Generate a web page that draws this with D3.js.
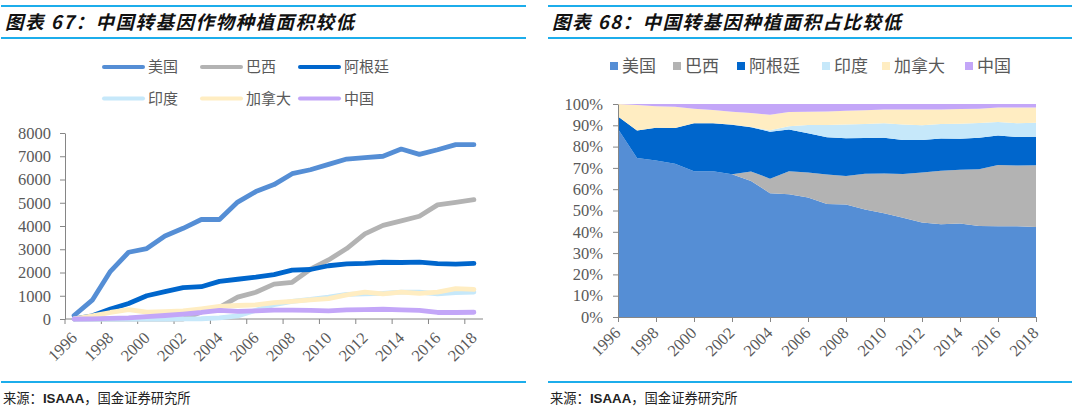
<!DOCTYPE html>
<html>
<head>
<meta charset="utf-8">
<script src="https://cdn.jsdelivr.net/npm/d3@7"></script>
<style>
  body { margin: 0; background: #fff; }
  svg { display: block; }
</style>
</head>
<body>
<div id="vis"></div>
<script>
var width = 1080;
var height = 411;

// data (万公顷)
var years = [1996, 1997, 1998, 1999, 2000, 2001, 2002, 2003, 2004, 2005, 2006, 2007,
             2008, 2009, 2010, 2011, 2012, 2013, 2014, 2015, 2016, 2017, 2018];
var countries = ["美国", "巴西", "阿根廷", "印度", "加拿大", "中国"];
var usa       = [150, 810, 2050, 2870, 3030, 3570, 3900, 4280, 4280, 5030, 5480, 5780,
                 6250, 6420, 6650, 6880, 6940, 7000, 7310, 7080, 7280, 7500, 7500];
var brazil    = [0, 0, 0, 0, 0, 0, 0, 300, 500, 940, 1150, 1500,
                 1580, 2140, 2540, 3030, 3660, 4030, 4220, 4420, 4910, 5020, 5130];
var argentina = [10, 140, 430, 670, 1000, 1180, 1350, 1390, 1620, 1710, 1800, 1910,
                 2100, 2130, 2290, 2370, 2390, 2440, 2430, 2450, 2380, 2360, 2390];
var india     = [0, 0, 0, 0, 0, 0, 5, 10, 50, 130, 380, 620,
                 760, 840, 940, 1060, 1080, 1100, 1160, 1160, 1080, 1140, 1160];
var canada    = [10, 130, 280, 400, 300, 320, 350, 440, 540, 580, 610, 700,
                 760, 820, 880, 1040, 1160, 1080, 1160, 1100, 1160, 1310, 1270];
var china     = [0, 5, 30, 50, 100, 150, 210, 280, 370, 330, 350, 380,
                 380, 370, 350, 390, 400, 420, 390, 370, 280, 280, 290];
var seriesValues = [usa, brazil, argentina, india, canada, china];
var colors = ["#558ED5", "#B3B3B3", "#0066CC", "#C6E8FA", "#FFEDC2", "#C3A6F8"];

var areaTicks = [0, 1000, 2000, 3000, 4000, 5000, 6000, 7000, 8000];
var shareTicks = [0, 0.1, 0.2, 0.3, 0.4, 0.5, 0.6, 0.7, 0.8, 0.9, 1];
var yearTicks = [1996, 1998, 2000, 2002, 2004, 2006, 2008, 2010, 2012, 2014, 2016, 2018];

var titles = ["图表 67：中国转基因作物种植面积较低", "图表 68：中国转基因种植面积占比较低"];
var source = ["来源：", "ISAAA", "，国金证券研究所"];

var ruleColor = "#1CADEB";
var axisColor = "#868686";
var textColor = "#595959";
var serif = "'Liberation Serif', 'Times New Roman', serif";
var cjk = "'Noto Sans CJK SC', sans-serif";

var svg = d3.select("#vis")
  .append("svg")
  .attr("width", width)
  .attr("height", height)
  .style("background-color", "white");

// frames: rules, title, source
function frame(x0, x1, title) {
  [6, 38, 382].forEach(function(y) {
    svg.append("line")
      .attr("x1", x0).attr("x2", x1)
      .attr("y1", y).attr("y2", y)
      .attr("stroke", ruleColor)
      .attr("stroke-width", 1.8);
  });
  svg.append("text")
    .attr("x", x0 + 4)
    .attr("y", 29)
    .style("font-family", cjk)
    .style("font-size", "18.5px")
    .style("font-weight", 700)
    .style("font-style", "italic")
    .style("letter-spacing", "1.5px")
    .style("fill", "#111")
    .text(title);
  var src = svg.append("text")
    .attr("x", x0 + 2)
    .attr("y", 403)
    .style("font-size", "13.3px")
    .style("fill", "#222");
  src.append("tspan").style("font-family", cjk).text(source[0]);
  src.append("tspan").style("font-family", "'Liberation Sans', Arial, sans-serif")
    .style("font-weight", 700).text(source[1]);
  src.append("tspan").style("font-family", cjk).text(source[2]);
}
frame(1, 526, titles[0]);
frame(548, 1072, titles[1]);

function styleAxis(g) {
  g.attr("font-family", null).attr("font-size", null);
  g.selectAll("path, line").attr("stroke", axisColor);
  g.selectAll("text")
    .attr("font-family", serif)
    .style("font-family", serif)
    .style("font-size", "16.5px")
    .style("fill", textColor);
}

// ---------- left: line chart ----------
var x1 = d3.scaleBand().domain(years).range([65, 483]);
var y1 = d3.scaleLinear().domain([0, 8000]).range([319, 133]);
var bw = x1.bandwidth();

var yAxis1 = svg.append("g")
  .attr("transform", "translate(65,0)")
  .call(d3.axisLeft(y1).tickValues(areaTicks).tickSize(5).tickSizeOuter(0)
    .tickPadding(9).tickFormat(d3.format("d")));
styleAxis(yAxis1);

var xAxis1 = svg.append("g");
xAxis1.append("line")
  .attr("x1", 65).attr("x2", 483)
  .attr("y1", 319).attr("y2", 319);
xAxis1.selectAll(".tick")
  .data(yearTicks)
  .join("line")
  .attr("x1", d => x1(d)).attr("x2", d => x1(d))
  .attr("y1", 319).attr("y2", 324);
xAxis1.selectAll("text")
  .data(yearTicks)
  .join("text")
  .attr("text-anchor", "end")
  .attr("transform", d => `translate(${x1(d) + bw / 2 + 4}, ${319 + 20}) rotate(-45)`)
  .text(d => d);
styleAxis(xAxis1);

var line = d3.line()
  .x((d, i) => x1(years[i]) + bw / 2)
  .y(d => y1(d));

svg.append("g").selectAll("path")
  .data(seriesValues)
  .join("path")
  .attr("d", d => line(d))
  .attr("fill", "none")
  .attr("stroke", (d, i) => colors[i])
  .attr("stroke-width", 4.8)
  .attr("stroke-linejoin", "round")
  .attr("stroke-linecap", "round");

// legend (two rows of three)
var legend1 = svg.append("g").selectAll("g")
  .data(countries)
  .join("g")
  .attr("transform", (d, i) => `translate(${104 + (i % 3) * 98}, ${i < 3 ? 67 : 98.5})`);
legend1.append("line")
  .attr("x1", 0).attr("x2", 39)
  .attr("stroke", (d, i) => colors[i])
  .attr("stroke-width", 4)
  .attr("stroke-linecap", "round");
legend1.append("text")
  .attr("x", 44)
  .attr("dy", "0.36em")
  .style("font-family", cjk)
  .style("font-size", "15px")
  .style("fill", textColor)
  .text(d => d);

// ---------- right: 100% stacked area ----------
var table = years.map((yr, i) => {
  var row = { year: yr };
  countries.forEach((c, k) => { row[c] = seriesValues[k][i]; });
  return row;
});
var stacked = d3.stack().keys(countries).offset(d3.stackOffsetExpand)(table);

var x2 = d3.scalePoint().domain(years).range([618, 1036]);
var y2 = d3.scaleLinear().domain([0, 1]).range([317, 104]);

var area = d3.area()
  .x(d => x2(d.data.year))
  .y0(d => y2(d[0]))
  .y1(d => y2(d[1]));

svg.append("g").selectAll("path")
  .data(stacked)
  .join("path")
  .attr("d", area)
  .attr("fill", (d, i) => colors[i]);

var yAxis2 = svg.append("g")
  .attr("transform", "translate(618,0)")
  .call(d3.axisLeft(y2).tickValues(shareTicks).tickSize(5).tickSizeOuter(0)
    .tickPadding(10).tickFormat(d3.format(".0%")));
styleAxis(yAxis2);

var xAxis2 = svg.append("g")
  .attr("transform", "translate(0,317)")
  .call(d3.axisBottom(x2).tickValues(yearTicks).tickSize(5).tickSizeOuter(0));
xAxis2.selectAll(".tick text")
  .attr("text-anchor", "end")
  .attr("dy", null)
  .attr("y", null)
  .attr("transform", "translate(3,17) rotate(-45)");
styleAxis(xAxis2);

// legend (one row)
var legendX = [610, 673, 737, 822, 882, 965];
var legend2 = svg.append("g").selectAll("g")
  .data(countries)
  .join("g")
  .attr("transform", (d, i) => `translate(${legendX[i]}, 66)`);
legend2.append("rect")
  .attr("x", 0).attr("y", -4)
  .attr("width", 8).attr("height", 8)
  .attr("fill", (d, i) => colors[i]);
legend2.append("text")
  .attr("x", 12)
  .attr("dy", "0.36em")
  .style("font-family", cjk)
  .style("font-size", "17px")
  .style("fill", textColor)
  .text(d => d);
</script>
</body>
</html>
